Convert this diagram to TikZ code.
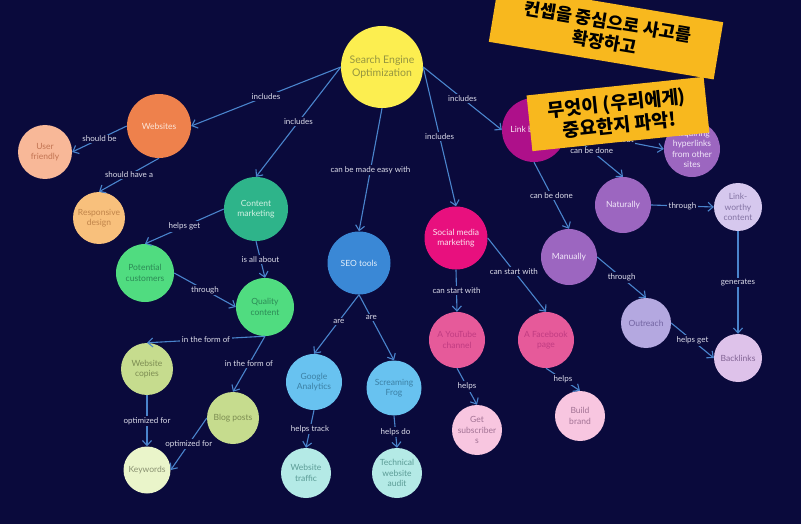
\documentclass[tikz,border=0pt]{standalone}
\usepackage{fontspec}
\setmainfont{Lato}
\newfontfamily\krfont{Noto Sans CJK KR}
\usetikzlibrary{arrows.meta}
\definecolor{bgc}{HTML}{0A0A3C}
\definecolor{edgec}{HTML}{4A84CC}
\definecolor{labc}{HTML}{DCDCEA}
\definecolor{stk}{HTML}{F8B81E}
\definecolor{fseo}{HTML}{FCEE50}\definecolor{tseo}{HTML}{959540}
\definecolor{fweb}{HTML}{EE814C}\definecolor{tweb}{HTML}{FBE6DA}
\definecolor{fuf}{HTML}{F8B898}\definecolor{tuf}{HTML}{C27452}
\definecolor{frd}{HTML}{F8C07C}\definecolor{trd}{HTML}{C0844A}
\definecolor{fcm}{HTML}{2EB48A}\definecolor{tcm}{HTML}{D2F2E4}
\definecolor{fgr}{HTML}{50DC80}\definecolor{tgr}{HTML}{2C8A56}
\definecolor{fol}{HTML}{C6DC8E}\definecolor{tol}{HTML}{7C8C52}
\definecolor{fkw}{HTML}{EAF5CA}\definecolor{tkw}{HTML}{8A9272}
\definecolor{fst}{HTML}{3A88D6}\definecolor{tst}{HTML}{E2EEFA}
\definecolor{flb}{HTML}{68C2F0}\definecolor{tlb}{HTML}{3C80A4}
\definecolor{fcy}{HTML}{B4EAE6}\definecolor{tcy}{HTML}{5C9C96}
\definecolor{fsm}{HTML}{E8107E}\definecolor{tsm}{HTML}{FBE2EE}
\definecolor{fpk}{HTML}{E65A9A}\definecolor{tpk}{HTML}{C03C82}
\definecolor{flp}{HTML}{F8C6E0}\definecolor{tlp}{HTML}{A27294}
\definecolor{flk}{HTML}{AE108A}\definecolor{tlk}{HTML}{F8E2F2}
\definecolor{fpu}{HTML}{9C66C0}\definecolor{tpu}{HTML}{F2E8FA}
\definecolor{flw}{HTML}{D6C8EE}\definecolor{tlw}{HTML}{8474A4}
\definecolor{fout}{HTML}{B4A8E0}\definecolor{tout}{HTML}{7264A2}
\definecolor{fbl}{HTML}{DEC2EA}\definecolor{tbl}{HTML}{826494}
\tikzset{
  cnode/.style={circle, inner sep=0pt, align=center, font=\fontsize{8.5}{10.5}\selectfont},
  link/.style={draw=edgec, line width=1.1pt, -{Straight Barb[length=5pt,width=9pt]}},
  lab/.style={fill=bgc, text=labc, inner sep=1.5pt, font=\fontsize{8}{9}\selectfont},
  sticker/.style={fill=stk, inner sep=0pt, align=center, text=black, font=\krfont\bfseries}
}
\begin{document}
\begin{tikzpicture}[x=1pt,y=-1pt]
\fill[bgc] (0,0) rectangle (801,524);
\useasboundingbox (0,0) rectangle (801,524);
% nodes
\node[cnode, fill=fseo, text=tseo, minimum size=82pt, font=\fontsize{10.5}{13}\selectfont] (seo) at (382,67) {Search Engine\\Optimization};
\node[cnode, fill=fweb, text=tweb, minimum size=64pt] (web) at (159,126) {Websites};
\node[cnode, fill=fuf, text=tuf, minimum size=54pt] (uf) at (45,152) {User\\friendly};
\node[cnode, fill=frd, text=trd, minimum size=52pt] (rd) at (99,218) {Responsive\\design};
\node[cnode, fill=fcm, text=tcm, minimum size=64pt] (cm) at (256,209) {Content\\marketing};
\node[cnode, fill=fgr, text=tgr, minimum size=58pt] (pc) at (145,273) {Potential\\customers};
\node[cnode, fill=fgr, text=tgr, minimum size=58pt] (qc) at (265,307) {Quality\\content};
\node[cnode, fill=fol, text=tol, minimum size=52pt] (wc) at (147,369) {Website\\copies};
\node[cnode, fill=fol, text=tol, minimum size=52pt] (bp) at (233,418) {Blog posts};
\node[cnode, fill=fkw, text=tkw, minimum size=47pt] (kw) at (147,470) {Keywords};
\node[cnode, fill=fst, text=tst, minimum size=63pt] (st) at (359,263) {SEO tools};
\node[cnode, fill=flb, text=tlb, minimum size=56pt] (ga) at (314,382) {Google\\Analytics};
\node[cnode, fill=flb, text=tlb, minimum size=55pt] (sf) at (394,388) {Screaming\\Frog};
\node[cnode, fill=fcy, text=tcy, minimum size=50pt] (wt) at (306,473) {Website\\traffic};
\node[cnode, fill=fcy, text=tcy, minimum size=50pt] (ta) at (397,473) {Technical\\website\\audit};
\node[cnode, fill=fsm, text=tsm, minimum size=63pt] (smm) at (456,238) {Social media\\marketing};
\node[cnode, fill=fpk, text=tpk, minimum size=56pt] (yt) at (457,340) {A YouTube\\channel};
\node[cnode, fill=fpk, text=tpk, minimum size=56pt] (fb) at (546,340) {A Facebook\\page};
\node[cnode, fill=flp, text=tlp, minimum size=50pt] (gs) at (477,430) {Get\\subscriber\\s};
\node[cnode, fill=flp, text=tlp, minimum size=50pt] (bb) at (580,416) {Build\\brand};
\node[cnode, fill=flk, text=tlk, minimum size=64pt] (lb) at (534,130) {Link building};
\node[cnode, fill=fpu, text=tpu, minimum size=56pt] (ah) at (692,149) {Acquiring\\hyperlinks\\from other\\sites};
\node[cnode, fill=fpu, text=tpu, minimum size=56pt] (nat) at (623,205) {Naturally};
\node[cnode, fill=fpu, text=tpu, minimum size=56pt] (man) at (569,257) {Manually};
\node[cnode, fill=flw, text=tlw, minimum size=48pt] (lw) at (738,207) {Link-\\worthy\\content};
\node[cnode, fill=fout, text=tout, minimum size=50pt] (out) at (646,323) {Outreach};
\node[cnode, fill=fbl, text=tbl, minimum size=48pt] (bl) at (738,358) {Backlinks};
% connectors
\draw[link] (seo.west) -- node[lab]{includes} (web.east);
\draw[link] (seo.west) -- node[lab]{includes} (cm.north);
\draw[link] (seo.south) -- node[lab]{can be made easy with} (st.north);
\draw[link] (seo.east) -- node[lab]{includes} (smm.north);
\draw[link] (seo.east) -- node[lab]{includes} (lb.west);
\draw[link] (web.west) -- node[lab]{should be} (uf.east);
\draw[link] (web.south) -- node[lab]{should have a} (rd.north);
\draw[link] (cm.west) -- node[lab]{helps get} (pc.north);
\draw[link] (cm.south) -- node[lab]{is all about} (qc.north);
\draw[link] (pc.east) -- node[lab]{through} (qc.west);
\draw[link] (qc.south) -- node[lab]{in the form of} (wc.north);
\draw[link] (qc.south) -- node[lab]{in the form of} (bp.north);
\draw[link] (wc.south) -- node[lab]{optimized for} (kw.north);
\draw[link] (bp.west) -- node[lab]{optimized for} (kw.east);
\draw[link] (st.south) -- node[lab, pos=0.45]{are} (ga.north);
\draw[link] (st.south) -- node[lab, pos=0.35]{are} (sf.north);
\draw[link] (ga.south) -- node[lab]{helps track} (wt.north);
\draw[link] (sf.south) -- node[lab]{helps do} (ta.north);
\draw[link] (smm.south) -- node[lab]{can start with} (yt.north);
\draw[link] (smm.east) -- node[lab, pos=0.45]{can start with} (fb.north);
\draw[link] (yt.south) -- node[lab]{helps} (gs.north);
\draw[link] (fb.south) -- node[lab]{helps} (bb.north);
\draw[link] (lb.east) -- node[lab]{is all about} (ah.west);
\draw[link] (lb.east) -- node[lab, pos=0.45]{can be done} (nat.north);
\draw[link] (lb.south) -- node[lab]{can be done} (man.north);
\draw[link] (nat.east) -- node[lab]{through} (lw.west);
\draw[link] (man.east) -- node[lab]{through} (out.north);
\draw[link] (lw.south) -- node[lab]{generates} (bl.north);
\draw[link] (out.east) -- node[lab]{helps get} (bl.west);
% stickers
\node[sticker, rotate=-9.5, minimum width=228pt, minimum height=58pt, font=\krfont\bfseries\fontsize{17.5}{21}\selectfont] (s1) at (606,32) {컨셉을 중심으로 사고를\\확장하고};
\node[sticker, rotate=6, minimum width=178pt, minimum height=56pt, font=\krfont\bfseries\fontsize{18.5}{22}\selectfont] (s2) at (618,114) {무엇이 (우리에게)\\중요한지 파악!};
\end{tikzpicture}
\end{document}
